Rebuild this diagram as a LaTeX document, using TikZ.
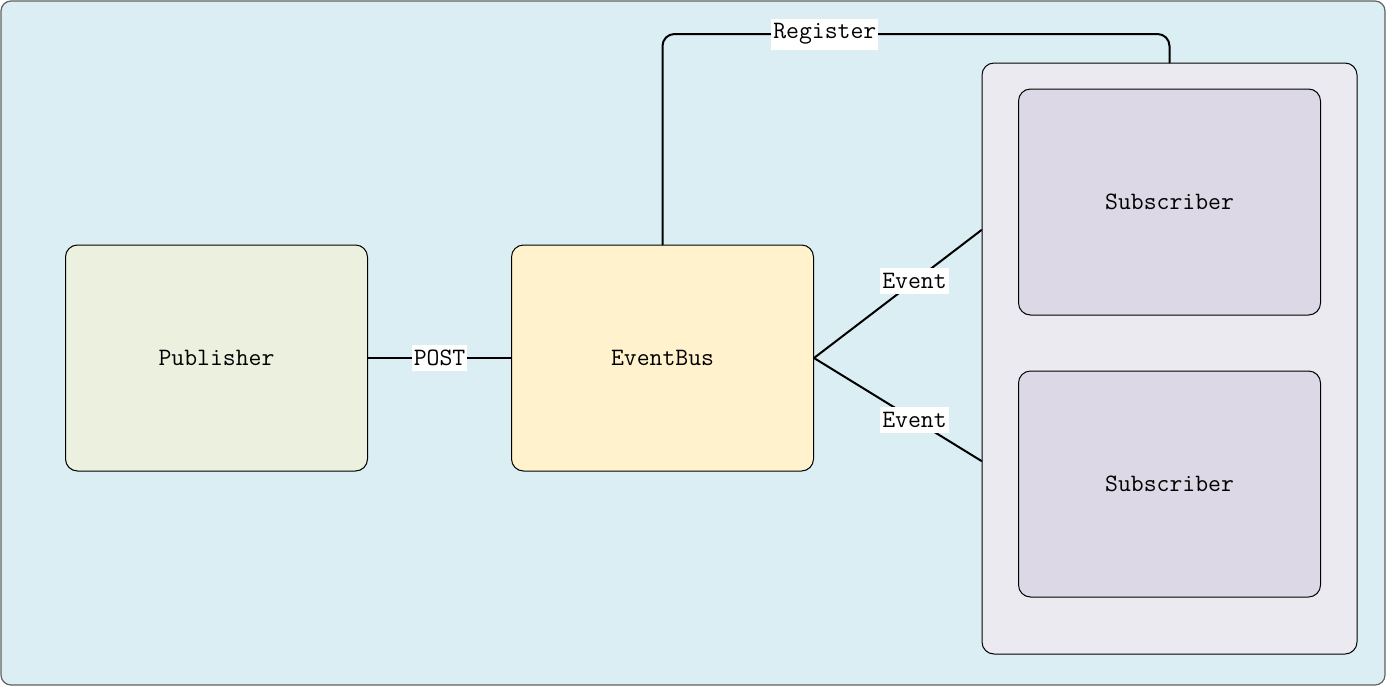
\documentclass[tikz,border=0pt]{standalone}
\usetikzlibrary{calc}
\definecolor{bgblue}{HTML}{DAEEF3}
\definecolor{pubgreen}{HTML}{EBF1DE}
\definecolor{busyellow}{HTML}{FFF2CC}
\definecolor{grplilac}{HTML}{ECEAF1}
\definecolor{sublilac}{HTML}{DDD8E6}
\definecolor{frame}{HTML}{606060}
\begin{document}
\begin{tikzpicture}[x=0.5pt, y=-0.5pt, font=\fontsize{12.5}{15}\ttfamily, line join=round, line cap=round,
		box/.style={draw=black, line width=0.5pt, rounded corners=6pt, minimum width=151pt, minimum height=113pt},
		link/.style={line width=1pt},
		tag/.style={fill=white, sharp corners, inner xsep=1pt, inner ysep=2.5pt}]
			\useasboundingbox (0,0) rectangle (1386,686);
			\draw[fill=bgblue, draw=frame, line width=0.6pt, rounded corners=5pt] (1,1) rectangle (1385,685);
			% boxes
			\node[box, fill=pubgreen] (pub) at (216.5,358) {Publisher};
			\node[box, fill=busyellow] (bus) at (662.5,358) {EventBus};
			\node[box, fill=grplilac, minimum width=187.5pt, minimum height=295.5pt] (grp) at (1169.5,358.5) {};
			\node[box, fill=sublilac] (subA) at (1169.5,202) {Subscriber};
			\node[box, fill=sublilac] (subB) at (1169.5,484) {Subscriber};
			% links
			\draw[link] (pub.east) -- node[tag] {POST} (bus.west);
			\draw[link] (bus.east) -- node[tag, pos=0.6] {Event} (grp.west |- 0,230);
			\draw[link] (bus.east) -- node[tag, pos=0.6] {Event} (grp.west |- 0,461);
			\draw[link, rounded corners=6pt] (bus.north) -- (bus.north |- 0,34) -- node[tag, pos=0.32] {Register} (grp.north |- 0,34) -- (grp.north);
		\end{tikzpicture}
\end{document}
